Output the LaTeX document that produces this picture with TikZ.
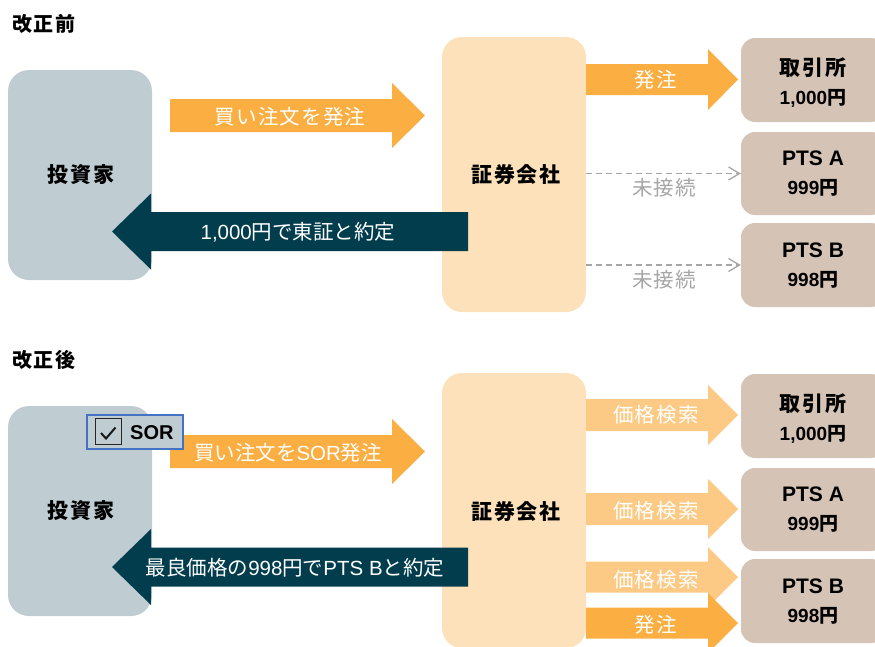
\documentclass[tikz,border=0pt]{standalone}
\usepackage{fontspec}
\setmainfont{Liberation Sans}
\newfontfamily\jp{Noto Sans CJK JP}
\newfontfamily\jpl[LetterSpace=6]{Noto Sans CJK JP}
\newfontfamily\jpb[LetterSpace=9]{Noto Sans CJK JP}
\usetikzlibrary{arrows.meta}
\definecolor{invc}{HTML}{BFCDD2}
\definecolor{secc}{HTML}{FDE1BA}
\definecolor{exc}{HTML}{D5C3B6}
\definecolor{orc}{HTML}{FBAE42}
\definecolor{lorc}{HTML}{FDCA85}
\definecolor{darkc}{HTML}{023D4D}
\definecolor{greyc}{HTML}{A6A6A6}
\definecolor{bluec}{HTML}{4472C4}
\newcommand\blk[7]{\fill[#1] ({#2},{#5-#6}) -- ({#3},{#5-#6}) -- ({#3},{#5-#7}) -- ({#4},{#5}) -- ({#3},{#5+#7}) -- ({#3},{#5+#6}) -- ({#2},{#5+#6}) -- cycle;}
\newcommand\smallline[1]{{\fontsize{19}{29}\selectfont #1}}
\begin{document}
\begin{tikzpicture}[x=1pt,y=-1pt,
  invbox/.style={fill=invc, rounded corners=21pt, minimum width=144pt, minimum height=210pt, inner sep=0pt},
  secbox/.style={fill=secc, rounded corners=20pt, minimum width=144pt, minimum height=275pt, inner sep=0pt},
  exbox/.style={fill=exc, rounded corners=14pt, minimum width=144pt, minimum height=83pt, inner sep=0pt},
  btxt/.style={font=\fontsize{21}{29}\selectfont\bfseries, align=center, inner sep=0pt},
  lbl/.style={text=white, font=\fontsize{20.5}{24}\selectfont, inner sep=0pt},
  ttl/.style={font=\fontsize{20}{24}\selectfont\jpb\bfseries, anchor=west, inner sep=0pt},
  nc/.style={draw=greyc, line width=1.4pt, dash pattern=on 6pt off 4pt, -{Straight Barb[length=11pt,width=13pt,line width=1.3pt]}},
  ncl/.style={text=greyc, font=\fontsize{20.5}{24}\selectfont\jpl, inner sep=0pt}
]
\useasboundingbox (0,0) rectangle (875,646);
% ---------- before ----------
\node[ttl] (t1) at (12,24) {改正前};
\node[invbox] (inv1) at (80,175) {};
\node[secbox] (sec1) at (514,174.5) {};
\node[exbox, minimum height=84pt] (ex1) at (813,80) {};
\node[exbox] (pa1) at (813,173.5) {};
\node[exbox, minimum height=84pt] (pb1) at (813,265) {};
\node[btxt] at (81,175) {\jpb 投資家};
\node[btxt] at (516,175) {\jpb 証券会社};
\node[btxt] (ex1t) at (813,82.5) {{\jpb 取引所}\\\smallline{1,000{\jp 円}}};
\node[btxt] (pa1t) at (813,173.5) {PTS A\\\smallline{999{\jp 円}}};
\node[btxt] (pb1t) at (813,265.5) {PTS B\\\smallline{998{\jp 円}}};
\blk{orc}{170}{392}{425}{115.5}{16.5}{32.5}
\node[lbl] (l1) at (290,117) {\jpl 買い注文を発注};
\blk{darkc}{468}{151}{112}{231.5}{19.5}{38}
\node[lbl] (l2) at (298,232) {1,000{\jp 円で東証と約定}};
\blk{orc}{586}{708}{738}{79.5}{15.5}{30.5}
\node[lbl] (l3) at (656,80) {\jpl 発注};
\draw[nc] (sec1.east |- pa1) -- (pa1.west);
\draw[nc] (sec1.east |- pb1) -- (pb1.west);
\node[ncl] (u1) at (664,188) {未接続};
\node[ncl] (u2) at (664,280) {未接続};
% ---------- after ----------
\node[ttl] (t2) at (12,360) {改正後};
\node[invbox] (inv2) at (80,511) {};
\node[secbox] (sec2) at (514,510.5) {};
\node[exbox, minimum height=84pt] (ex2) at (813,416) {};
\node[exbox] (pa2) at (813,509.5) {};
\node[exbox, minimum height=84pt] (pb2) at (813,601) {};
\node[btxt] at (81,511) {\jpb 投資家};
\node[btxt] at (516,511) {\jpb 証券会社};
\node[btxt] (ex2t) at (813,418.5) {{\jpb 取引所}\\\smallline{1,000{\jp 円}}};
\node[btxt] (pa2t) at (813,509.5) {PTS A\\\smallline{999{\jp 円}}};
\node[btxt] (pb2t) at (813,601.5) {PTS B\\\smallline{998{\jp 円}}};
\blk{orc}{170}{392}{425}{451.5}{16.5}{32.5}
\node[lbl] (l4) at (288,453) {{\jp 買い注文を}SOR{\jp 発注}};
\blk{darkc}{468}{151}{112}{567}{19.5}{38}
\node[lbl] (l5) at (295,568) {{\jp 最良価格の}998{\jp 円で}PTS B{\jp と約定}};
\blk{lorc}{586}{708}{738}{415}{16}{30}
\node[lbl] (l6) at (656,415) {\jpl 価格検索};
\blk{lorc}{586}{708}{738}{509}{16}{30}
\node[lbl] (l7) at (656,511) {\jpl 価格検索};
\blk{lorc}{586}{708}{738}{577}{15.5}{30}
\node[lbl] (l8) at (656,580) {\jpl 価格検索};
\blk{orc}{586}{708}{738}{623}{15.5}{30}
\node[lbl] (l9) at (656,625) {\jpl 発注};
% SOR checkbox
\node[draw=bluec, line width=1.6pt, fill=invc, minimum width=96pt, minimum height=34pt, inner sep=0pt] (sor) at (135,432) {};
\node[draw=black!85, line width=1.4pt, minimum size=26pt, inner sep=0pt] (chk) at (108.5,431.5) {};
\draw[line width=2pt, black!90] (101,433) -- (106,438.5) -- (115.5,427.5);
\node[anchor=west, font=\fontsize{20}{24}\selectfont\bfseries, inner sep=0pt] (sort) at (130,433) {SOR};
\end{tikzpicture}
\end{document}
